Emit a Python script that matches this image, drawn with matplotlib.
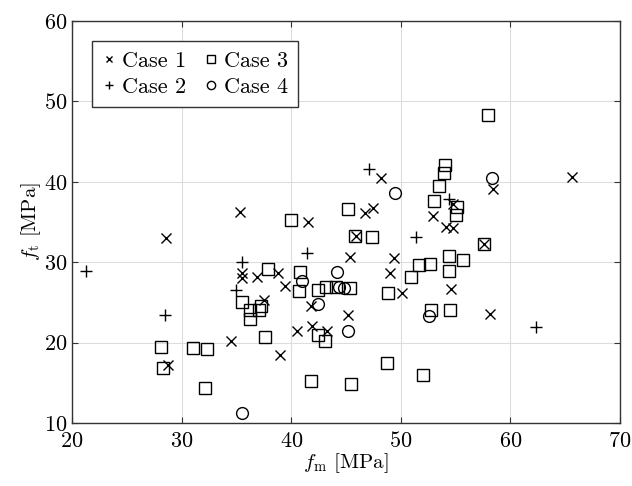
import numpy as np
import matplotlib
matplotlib.use("Agg")
import matplotlib.pyplot as plt

plt.rcParams['font.family'] = 'serif'
plt.rcParams['font.serif'] = ['cmr10']
plt.rcParams['mathtext.fontset'] = 'cm'
plt.rcParams['axes.formatter.use_mathtext'] = True

# Case 1 (x markers)
c1_fm = [28.6, 28.8, 35.3, 35.5, 35.5, 36.9, 37.5, 34.5, 38.8, 39.4, 39.0, 40.5,
         41.5, 41.8, 41.9, 43.3, 45.4, 45.2, 45.9, 46.7, 47.5, 48.2, 49.4, 49.0,
         50.1, 52.9, 54.1, 54.8, 54.6, 54.8, 58.4, 58.1, 57.6, 65.6]
c1_ft = [33.0, 17.2, 36.3, 28.6, 28.0, 28.2, 25.3, 20.2, 28.6, 27.0, 18.4, 21.5,
         35.0, 24.6, 22.1, 21.4, 30.7, 23.4, 33.3, 36.1, 36.8, 40.5, 30.5, 28.6,
         26.2, 35.8, 34.4, 34.3, 26.7, 37.2, 39.1, 23.5, 32.3, 40.6]

# Case 2 (+ markers)
c2_fm = [21.3, 28.5, 35.5, 35.0, 41.4, 47.1, 51.4, 54.4, 62.3]
c2_ft = [28.9, 23.4, 30.0, 26.6, 31.2, 41.6, 33.1, 37.9, 21.9]

# Case 3 (squares)
c3_fm = [28.1, 28.3, 31.0, 32.3, 32.1, 35.5, 36.2, 36.2, 37.1, 37.2, 37.9, 37.6,
         40.0, 40.8, 40.7, 42.4, 42.4, 43.1, 43.2, 44.1, 45.4, 45.2, 45.8, 47.4,
         41.8, 45.5, 48.7, 48.8, 50.9, 51.7, 52.7, 52.0, 52.8, 53.0, 53.5, 53.9,
         54.0, 54.4, 54.4, 54.5, 55.7, 55.1, 55.0, 58.0, 57.6]
c3_ft = [19.5, 16.9, 19.3, 19.2, 14.4, 25.1, 24.1, 22.9, 24.1, 24.5, 29.2, 20.7,
         35.3, 28.8, 26.4, 26.5, 20.9, 20.2, 26.9, 26.9, 26.8, 36.6, 33.3, 33.1,
         15.2, 14.8, 17.5, 26.2, 28.2, 29.6, 29.8, 16.0, 24.1, 37.6, 39.5, 41.1,
         42.1, 30.8, 28.9, 24.1, 30.3, 36.9, 35.9, 48.3, 32.3]

# Case 4 (circles)
c4_fm = [35.5, 41.0, 42.4, 44.2, 44.4, 44.8, 45.2, 49.5, 52.6, 58.3]
c4_ft = [11.2, 27.6, 24.8, 28.8, 26.9, 26.8, 21.4, 38.6, 23.3, 40.5]

fig = plt.figure(figsize=(6.32, 4.86), dpi=100)
ax = fig.add_axes([72/632, 1-423/486, 548/632, 402/486])

ax.plot(c1_fm, c1_ft, 'x', color='k', ms=6.5, mew=1.0, label='Case 1', linestyle='none')
ax.plot(c2_fm, c2_ft, '+', color='k', ms=9, mew=1.0, label='Case 2', linestyle='none')
ax.plot(c3_fm, c3_ft, 's', color='k', mfc='none', ms=8.5, mew=1.0, label='Case 3', linestyle='none')
ax.plot(c4_fm, c4_ft, 'o', color='k', mfc='none', ms=8.5, mew=1.0, label='Case 4', linestyle='none')

ax.set_xlim(20, 70)
ax.set_ylim(10, 60)
ax.set_xticks(np.arange(20, 71, 10))
ax.set_yticks(np.arange(10, 61, 10))
ax.grid(True, color='#dddddd', linewidth=0.8)
ax.set_axisbelow(True)
ax.tick_params(direction='in', top=True, right=True, labelsize=16, length=4,
               color='#333333')
ax.tick_params(axis='x', pad=6)
ax.tick_params(axis='y', pad=3)
for s in ax.spines.values():
    s.set_color('#333333')
    s.set_linewidth(1.0)

ax.set_xlabel(r'$f_\mathrm{m}$ [MPa]', fontsize=15, labelpad=0)
ax.set_ylabel(r'$f_\mathrm{t}$ [MPa]', fontsize=15, labelpad=1)

leg = ax.legend(ncol=2, loc='upper left', fontsize=16, markerscale=0.7,
                handlelength=0.6, handletextpad=0.3, columnspacing=0.8,
                borderpad=0.45, labelspacing=0.3, fancybox=False, framealpha=1,
                edgecolor='#333333', borderaxespad=0,
                bbox_to_anchor=(20/548, 382/402))
leg.get_frame().set_linewidth(1.0)

fig.savefig('out.png', dpi=100)
